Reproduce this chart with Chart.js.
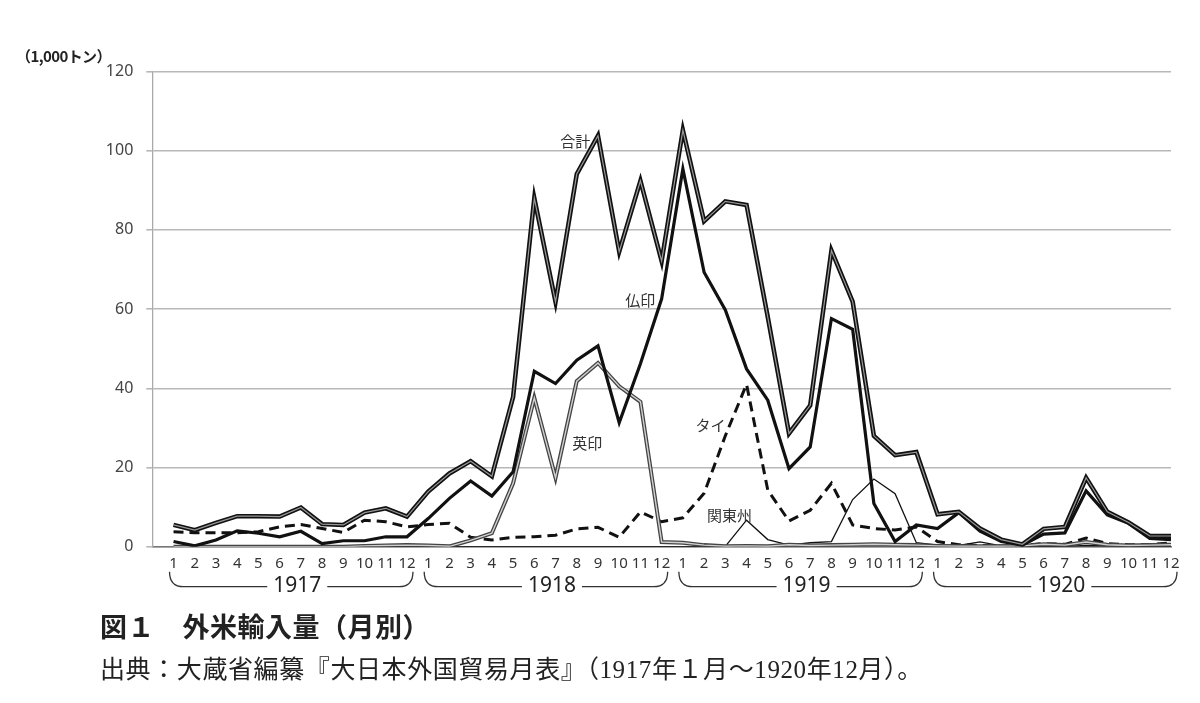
<!DOCTYPE html>
<html lang="ja">
<head>
  <meta charset="UTF-8" />
  <title>外米輸入量（月別）</title>
  <script src="https://cdn.jsdelivr.net/npm/chart.js"></script>
  <style>
    body { margin: 0; background: #fff; }
    #wrap { position: relative; width: 1200px; height: 703px; }
    #unit { position: absolute; left: 16px; top: 45px; font: bold 15px "Noto Sans CJK JP", sans-serif; color: #222; letter-spacing: -0.6px; }
    #title { position: absolute; left: 100px; top: 606px; font: bold 27px "Noto Sans CJK JP", sans-serif; color: #222; letter-spacing: 0.5px; }
    #source { position: absolute; left: 100px; top: 649px; font: 25px "Liberation Serif", "Noto Sans CJK JP", serif; color: #222; letter-spacing: 0.6px; }
  </style>
</head>
<body>
  <div id="wrap">
    <canvas id="riceChart" width="1200" height="703"></canvas>
    <div id="unit">（1,000トン）</div>
    <div id="title">図１　外米輸入量（月別）</div>
    <div id="source">出典：大蔵省編纂『大日本外国貿易月表』（1917年１月～1920年12月）。</div>
  </div>

  <script>
    // 1917年1月 ～ 1920年12月, 単位 1,000トン
    const years = ['1917', '1918', '1919', '1920'];
    const monthLabels = ['1', '2', '3', '4', '5', '6', '7', '8', '9', '10', '11', '12'];
    const yTicks = [0, 20, 40, 60, 80, 100, 120];

    const total = [
      5.5, 4.2, 6.0, 7.7, 7.7, 7.6, 9.9, 5.7, 5.5, 8.6, 9.7, 7.6,
      13.9, 18.5, 21.6, 17.8, 37.8, 88.0, 61.8, 94.1, 103.8, 74.5, 92.4, 72.1,
      105.2, 82.2, 87.2, 86.3, 58.0, 28.6, 35.7, 74.8, 61.9, 28.0, 23.1, 23.9,
      8.2, 8.8, 4.6, 1.8, 0.6, 4.5, 5.0, 17.4, 8.8, 6.1, 2.7, 2.7
    ];
    const futsuin = [
      1.3, 0.2, 1.7, 4.0, 3.4, 2.5, 3.9, 0.8, 1.5, 1.5, 2.5, 2.5,
      7.1, 12.2, 16.6, 12.8, 18.9, 44.3, 41.2, 47.1, 50.7, 31.3, 46.2, 62.6,
      95.4, 69.3, 59.8, 44.9, 37.0, 19.7, 25.2, 57.6, 54.9, 10.9, 1.3, 5.5,
      4.6, 8.6, 3.9, 1.3, 0.4, 3.2, 3.5, 14.1, 8.0, 5.9, 2.1, 1.8
    ];
    const eiin = [
      0, 0, 0, 0, 0, 0, 0, 0, 0, 0.2, 0.3, 0.4,
      0.3, 0.1, 1.6, 3.4, 16.0, 37.6, 17.4, 41.8, 46.4, 40.5, 36.6, 1.2,
      1.0, 0.4, 0.1, 0.2, 0.1, 0.5, 0.3, 0.4, 0.5, 0.6, 0.5, 0.4,
      0.2, 0.1, 0.1, 0.1, 0.2, 0.6, 0.4, 1.2, 0.5, 0.3, 0.4, 0.5
    ];
    const thai = [
      3.8, 3.5, 3.5, 3.5, 3.8, 5.0, 5.6, 4.6, 3.6, 6.7, 6.3, 5.0,
      5.6, 5.9, 2.4, 1.7, 2.4, 2.5, 2.9, 4.5, 4.9, 2.4, 8.8, 6.3,
      7.3, 13.5, 28.0, 41.0, 14.3, 6.5, 9.2, 16.0, 5.5, 4.6, 4.2, 5.0,
      1.3, 0.5, 0.3, 0.2, 0.3, 0.8, 0.6, 2.2, 0.8, 0.5, 0.5, 1.0
    ];
    const kantoshu = [
      0, 0, 0, 0, 0, 0, 0, 0, 0, 0, 0, 0,
      0, 0, 0, 0, 0, 0, 0, 0, 0, 0, 0, 0,
      0, 0, 0.1, 6.7, 1.8, 0.4, 1.0, 1.3, 11.9, 17.1, 13.4, 1.0,
      0.4, 0.3, 1.2, 0.2, 0.1, 0.1, 0.1, 0.3, 0.2, 0.1, 0.1, 0.1
    ];

    // 系列名の注記: [テキスト, 月の通し番号, 値]
    const seriesNotes = [
      ['合計', 19.93, 102.4],
      ['仏印', 22.99, 62.3],
      ['英印', 20.5, 26.2],
      ['タイ', 26.3, 30.7],
      ['関東州', 27.2, 8.0]
    ];

    function toPoints(values) {
      return values.map((v, i) => ({ x: i + 1, y: v }));
    }

    function line(data, color, width, extra) {
      return Object.assign({
        data: toPoints(data),
        borderColor: color,
        borderWidth: width,
        pointRadius: 0,
        tension: 0,
        fill: false,
        borderJoinStyle: 'miter'
      }, extra || {});
    }

    const yearBrackets = {
      id: 'yearBrackets',
      afterDraw(chart) {
        const xs = chart.scales.x;
        const ctx = chart.ctx;
        const top = chart.chartArea.bottom + 25;
        const bot = chart.chartArea.bottom + 40;
        ctx.save();
        ctx.strokeStyle = '#333';
        ctx.fillStyle = '#222';
        ctx.lineWidth = 1.3;
        ctx.font = '21px "Liberation Sans Narrow", "Noto Sans", sans-serif';
        ctx.textAlign = 'center';
        ctx.textBaseline = 'middle';
        years.forEach((yr, k) => {
          const x1 = xs.getPixelForValue(k * 12 + 1) - 4;
          const x2 = xs.getPixelForValue(k * 12 + 12) + 6;
          const mid = (x1 + x2) / 2 + 6;
          const half = ctx.measureText(yr).width / 2 + 6;
          ctx.beginPath();
          ctx.moveTo(x1, top);
          ctx.quadraticCurveTo(x1, bot, x1 + 14, bot);
          ctx.lineTo(mid - half, bot);
          ctx.moveTo(mid + half, bot);
          ctx.lineTo(x2 - 14, bot);
          ctx.quadraticCurveTo(x2, bot, x2, top);
          ctx.stroke();
          ctx.fillText(yr, mid, bot - 1);
        });
        ctx.restore();
      }
    };

    const noteLabels = {
      id: 'noteLabels',
      afterDatasetsDraw(chart) {
        const ctx = chart.ctx;
        ctx.save();
        ctx.fillStyle = '#333';
        ctx.font = '15px "Noto Sans CJK JP", sans-serif';
        ctx.textAlign = 'center';
        ctx.textBaseline = 'middle';
        seriesNotes.forEach(([txt, xv, yv]) => {
          ctx.fillText(txt, chart.scales.x.getPixelForValue(xv), chart.scales.y.getPixelForValue(yv));
        });
        ctx.restore();
      }
    };

    new Chart(document.getElementById('riceChart'), {
      type: 'line',
      data: {
        datasets: [
          line(total, '#999', 1.2),
          line(total, '#111', 4.5),
          line(futsuin, '#111', 3.2),
          line(eiin, '#d0d0d0', 1.4),
          line(eiin, '#444', 4),
          line(thai, '#111', 3, { borderDash: [10, 6] }),
          line(kantoshu, '#111', 1.3)
        ]
      },
      options: {
        responsive: false,
        animation: false,
        layout: { padding: { left: 0, top: 71.5, right: 29, bottom: 106.3 } },
        plugins: {
          legend: { display: false },
          tooltip: { enabled: false }
        },
        scales: {
          x: {
            type: 'linear',
            min: 0,
            max: 48,
            afterFit(scale) { scale.height = 50; },
            grid: { display: true, drawOnChartArea: false, drawTicks: false },
            border: { display: true, color: '#777', width: 1.5 },
            ticks: {
              stepSize: 1,
              autoSkip: false,
              maxRotation: 0,
              padding: 8,
              color: '#333',
              font: { family: 'Noto Sans', size: 15 },
              callback: v => (v >= 1 ? monthLabels[(v - 1) % 12] : '')
            }
          },
          y: {
            min: 0,
            max: 120,
            afterFit(scale) { scale.width = 152.3; },
            afterBuildTicks(scale) { scale.ticks = yTicks.map(v => ({ value: v })); },
            grid: { color: '#b8b8b8', lineWidth: 1.6, tickLength: 6 },
            border: { display: true, color: '#aaa', width: 1.3 },
            ticks: {
              padding: 13,
              color: '#444',
              font: { family: 'Noto Sans', size: 16 }
            }
          }
        }
      },
      plugins: [yearBrackets, noteLabels]
    });
  </script>
</body>
</html>
